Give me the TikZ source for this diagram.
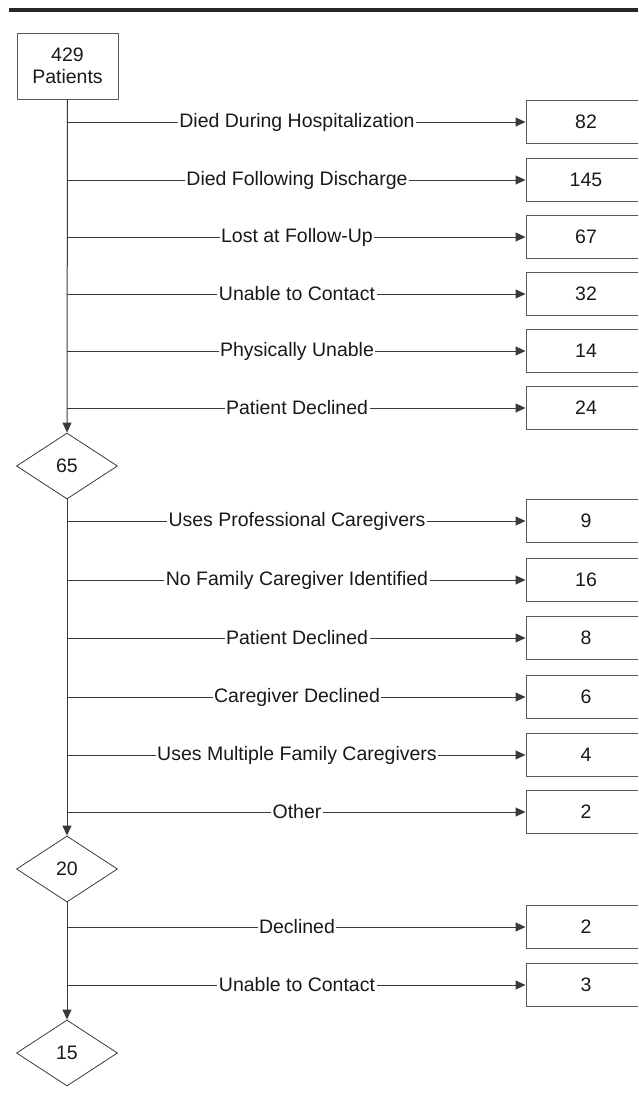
\documentclass[tikz,border=0pt]{standalone}
\usepackage{fontspec}
\setmainfont{Liberation Sans}
\usetikzlibrary{shapes.geometric,arrows.meta}
\definecolor{linec}{HTML}{3A3A3A}
\definecolor{boxc}{HTML}{5A5A5A}
\begin{document}
\begin{tikzpicture}[x=1pt,y=-1pt,
  every node/.style={font=\fontsize{19.5}{22}\selectfont, text=black!90},
  countbox/.style={draw=boxc, line width=1pt, minimum width=120pt, minimum height=43pt, inner sep=0pt},
  startbox/.style={draw=boxc, line width=1pt, minimum width=101pt, minimum height=66pt, inner sep=0pt, align=center},
  decision/.style={diamond, draw=linec, line width=0.8pt, minimum width=101pt, minimum height=66pt, inner sep=0pt},
  lbl/.style={fill=white, inner xsep=1.5pt, inner ysep=1pt},
  tip/.style={-{Triangle[length=10pt,width=9pt]}},
  flow/.style={draw=linec, line width=1pt, tip},
  trunk/.style={draw=linec, line width=1pt}
]
\useasboundingbox (0,0) rectangle (638,1103);
\clip (0,0) rectangle (638,1103);
\draw[line width=3.5pt, black!85] (9,10) -- (638,10);

\node[startbox] (start) at (67.5,66) {429\\Patients};
\node[decision] (d1) at (67,466) {65};
\node[decision] (d2) at (67,869) {20};
\node[decision] (d3) at (67,1053) {15};

\draw[trunk, tip] (start.south) -- (d1.north);
\draw[trunk, tip] (d1.south) -- (d2.north);
\draw[trunk, tip] (d2.south) -- (d3.north);

\foreach \n/\y/\val/\txt in {
  a1/122/82/Died During Hospitalization,
  a2/180/145/Died Following Discharge,
  a3/237/67/Lost at Follow-Up,
  a4/294/32/Unable to Contact,
  a5/351/14/Physically Unable,
  a6/408/24/Patient Declined,
  b1/521/9/Uses Professional Caregivers,
  b2/580/16/No Family Caregiver Identified,
  b3/638/8/Patient Declined,
  b4/697/6/Caregiver Declined,
  b5/755/4/Uses Multiple Family Caregivers,
  b6/812/2/Other,
  c1/927/2/Declined,
  c2/985/3/Unable to Contact}{
  \coordinate (\n-src) at (67,\y);
  \node[countbox] (\n-box) at (586,\y) {\val};
  \draw[flow] (\n-src) -- (\n-box.west);
  \node[lbl] (\n-lbl) at (297,\y) {\txt};
}
\end{tikzpicture}
\end{document}
